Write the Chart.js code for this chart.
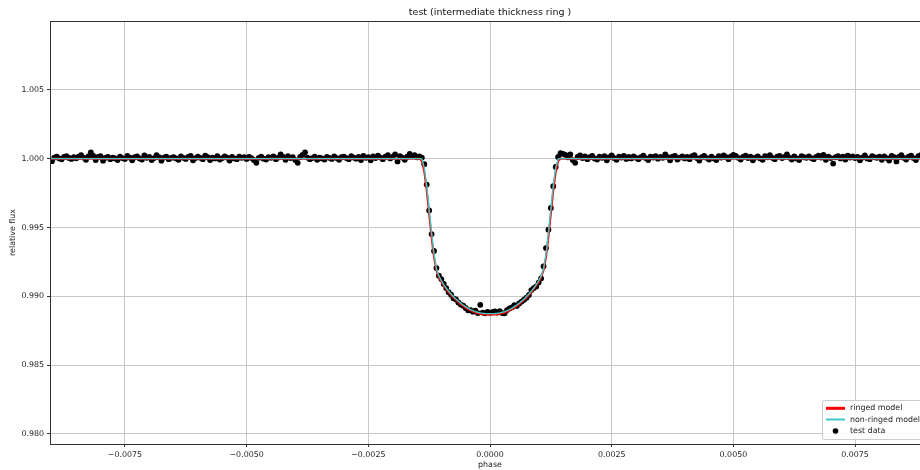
<!DOCTYPE html>
<html>
<head>
<meta charset="utf-8">
<script src="https://cdn.jsdelivr.net/npm/chart.js@4.4.1/dist/chart.umd.min.js"></script>
<style>
  html, body { margin: 0; padding: 0; background: #fff; overflow: hidden; }
  #wrap { width: 920px; height: 470px; overflow: hidden; position: relative; }
  canvas { position: absolute; left: 0; top: 0; }
</style>
</head>
<body>
<div id="wrap"><canvas id="c" width="960" height="470"></canvas></div>
<script>
// ---------------- data ----------------
const chartTitle = 'test (intermediate thickness ring )';
const xAxisLabel = 'phase';
const yAxisLabel = 'relative flux';
const seriesNames = ['ringed model', 'non-ringed model', 'test data'];

const xTicks = [-0.0075, -0.0050, -0.0025, 0.0000, 0.0025, 0.0050, 0.0075];
const yTicks = [0.980, 0.985, 0.990, 0.995, 1.000, 1.005];

// test data: out-of-transit before ingress
const phaseBefore = [
-0.00900,-0.00895,-0.00890,-0.00885,-0.00880,-0.00875,-0.00870,-0.00865,-0.00860,-0.00855,
-0.00850,-0.00845,-0.00840,-0.00835,-0.00830,-0.00825,-0.00820,-0.00815,-0.00810,-0.00805,
-0.00800,-0.00795,-0.00790,-0.00785,-0.00780,-0.00775,-0.00770,-0.00765,-0.00760,-0.00755,
-0.00750,-0.00745,-0.00740,-0.00735,-0.00730,-0.00725,-0.00720,-0.00715,-0.00710,-0.00705,
-0.00700,-0.00695,-0.00690,-0.00685,-0.00680,-0.00675,-0.00670,-0.00665,-0.00660,-0.00655,
-0.00650,-0.00645,-0.00640,-0.00635,-0.00630,-0.00625,-0.00620,-0.00615,-0.00610,-0.00605,
-0.00600,-0.00595,-0.00590,-0.00585,-0.00580,-0.00575,-0.00570,-0.00565,-0.00560,-0.00555,
-0.00550,-0.00545,-0.00540,-0.00535,-0.00530,-0.00525,-0.00520,-0.00515,-0.00510,-0.00505,
-0.00500,-0.00495,-0.00490,-0.00485,-0.00480,-0.00475,-0.00470,-0.00465,-0.00460,-0.00455,
-0.00450,-0.00445,-0.00440,-0.00435,-0.00430,-0.00425,-0.00420,-0.00415,-0.00410,-0.00405,
-0.00400,-0.00395,-0.00390,-0.00385,-0.00380,-0.00375,-0.00370,-0.00365,-0.00360,-0.00355,
-0.00350,-0.00345,-0.00340,-0.00335,-0.00330,-0.00325,-0.00320,-0.00315,-0.00310,-0.00305,
-0.00300,-0.00295,-0.00290,-0.00285,-0.00280,-0.00275,-0.00270,-0.00265,-0.00260,-0.00255,
-0.00250,-0.00245,-0.00240,-0.00235,-0.00230,-0.00225,-0.00220,-0.00215,-0.00210,-0.00205,
-0.00200,-0.00195,-0.00190,-0.00185,-0.00180,-0.00175,-0.00170,-0.00165,-0.00160,-0.00155,-0.00150,-0.00145
];
const fluxBefore = [
0.99982,1.00008,1.00015,1.00002,0.99995,1.00012,1.00018,1.00005,0.99998,1.00010,
1.00003,1.00014,1.00026,1.00008,0.99992,1.00016,1.00046,1.00020,0.99990,1.00012,
1.00018,0.99985,1.00006,1.00012,0.99996,1.00008,1.00002,0.99990,1.00014,1.00004,
0.99998,1.00020,1.00008,0.99988,1.00010,1.00016,1.00002,0.99994,1.00024,1.00006,
1.00012,0.99990,1.00004,1.00026,1.00010,0.99985,1.00008,1.00014,0.99996,1.00006,
1.00010,1.00002,0.99992,1.00016,1.00006,0.99998,1.00012,1.00020,0.99988,1.00004,
1.00014,1.00006,0.99996,1.00022,1.00010,0.99990,1.00008,1.00002,1.00018,0.99994,
1.00004,1.00016,1.00008,0.99986,1.00012,1.00002,0.99996,1.00014,1.00006,1.00010,
0.99998,1.00012,1.00004,0.99990,0.99970,1.00006,1.00014,1.00000,0.99994,1.00010,
1.00006,1.00016,0.99996,1.00008,1.00030,1.00012,0.99992,1.00018,1.00004,1.00010,
0.99990,0.99970,1.00012,1.00028,1.00046,1.00008,0.99996,1.00004,1.00014,0.99992,
1.00008,1.00002,0.99994,1.00012,1.00006,0.99998,1.00016,1.00004,0.99992,1.00010,
1.00014,1.00004,0.99996,1.00018,1.00008,1.00000,1.00012,0.99990,1.00020,1.00006,
1.00010,0.99988,1.00016,1.00004,1.00022,1.00008,0.99996,1.00014,1.00026,1.00002,
1.00012,1.00030,0.99980,1.00018,1.00008,0.99992,1.00014,1.00034,1.00020,1.00026,1.00010,1.00016
];

// test data: during transit
const phaseTransit = [
-0.00140,-0.00135,-0.00130,-0.00125,-0.00120,-0.00115,-0.00110,-0.00105,-0.00100,-0.00095,
-0.00090,-0.00085,-0.00080,-0.00075,-0.00070,-0.00065,-0.00060,-0.00055,-0.00050,-0.00045,
-0.00040,-0.00035,-0.00030,-0.00025,-0.00020,-0.00015,-0.00010,-0.00005,0.00000,
0.00005,0.00010,0.00015,0.00020,0.00025,0.00030,0.00035,0.00040,0.00045,0.00050,
0.00055,0.00060,0.00065,0.00070,0.00075,0.00080,0.00085,0.00090,0.00095,0.00100,
0.00105,0.00110,0.00115,0.00120,0.00125,0.00130,0.00135,0.00140
];
const fluxTransit = [
1.00008,0.99960,0.99812,0.99624,0.99452,0.99330,0.99205,0.99150,0.99125,0.99090,
0.99060,0.99030,0.99012,0.98985,0.98978,0.98955,0.98940,0.98932,0.98915,0.98898,
0.98900,0.98888,0.98895,0.98878,0.98938,0.98882,0.98876,0.98886,0.98880,
0.98884,0.98890,0.98882,0.98892,0.98878,0.98876,0.98900,0.98912,0.98920,0.98935,
0.98930,0.98948,0.98962,0.98975,0.98990,0.99010,0.99045,0.99060,0.99072,0.99100,
0.99130,0.99218,0.99350,0.99484,0.99642,0.99800,0.99940,1.00012
];

// test data: out-of-transit after egress
const phaseAfter = [
0.00145,0.00150,0.00155,0.00160,0.00165,0.00170,0.00175,0.00180,0.00185,0.00190,0.00195,0.00200,
0.00205,0.00210,0.00215,0.00220,0.00225,0.00230,0.00235,0.00240,0.00245,0.00250,
0.00255,0.00260,0.00265,0.00270,0.00275,0.00280,0.00285,0.00290,0.00295,0.00300,
0.00305,0.00310,0.00315,0.00320,0.00325,0.00330,0.00335,0.00340,0.00345,0.00350,
0.00355,0.00360,0.00365,0.00370,0.00375,0.00380,0.00385,0.00390,0.00395,0.00400,
0.00405,0.00410,0.00415,0.00420,0.00425,0.00430,0.00435,0.00440,0.00445,0.00450,
0.00455,0.00460,0.00465,0.00470,0.00475,0.00480,0.00485,0.00490,0.00495,0.00500,
0.00505,0.00510,0.00515,0.00520,0.00525,0.00530,0.00535,0.00540,0.00545,0.00550,
0.00555,0.00560,0.00565,0.00570,0.00575,0.00580,0.00585,0.00590,0.00595,0.00600,
0.00605,0.00610,0.00615,0.00620,0.00625,0.00630,0.00635,0.00640,0.00645,0.00650,
0.00655,0.00660,0.00665,0.00670,0.00675,0.00680,0.00685,0.00690,0.00695,0.00700,
0.00705,0.00710,0.00715,0.00720,0.00725,0.00730,0.00735,0.00740,0.00745,0.00750,
0.00755,0.00760,0.00765,0.00770,0.00775,0.00780,0.00785,0.00790,0.00795,0.00800,
0.00805,0.00810,0.00815,0.00820,0.00825,0.00830,0.00835,0.00840,0.00845,0.00850,
0.00855,0.00860,0.00865,0.00870,0.00875,0.00880,0.00885,0.00890,0.00895,0.00900
];
const fluxAfter = [
1.00040,1.00034,1.00028,1.00010,1.00030,0.99990,0.99970,1.00012,1.00024,1.00004,1.00016,0.99996,
1.00010,1.00020,1.00002,0.99994,1.00014,1.00006,1.00018,0.99988,1.00010,1.00024,
1.00004,0.99992,1.00014,1.00008,1.00020,0.99998,1.00012,1.00002,1.00016,1.00006,
0.99996,1.00010,1.00022,1.00004,0.99990,1.00014,1.00008,1.00018,1.00000,1.00012,
1.00006,1.00030,1.00010,0.99988,1.00014,1.00020,0.99994,1.00008,1.00016,1.00002,
1.00012,0.99996,1.00018,1.00026,1.00004,0.99986,1.00010,1.00020,1.00006,0.99994,
1.00014,1.00002,0.99990,1.00018,1.00008,1.00024,1.00010,0.99996,1.00016,1.00028,
1.00020,1.00006,0.99994,1.00012,1.00022,1.00004,1.00014,0.99988,1.00008,1.00016,
1.00002,0.99992,1.00018,1.00010,1.00026,1.00006,0.99996,1.00014,1.00020,1.00004,
1.00012,1.00030,1.00008,0.99994,1.00016,1.00002,0.99990,1.00018,1.00010,1.00006,
1.00016,1.00004,0.99996,1.00012,1.00022,1.00008,1.00028,0.99992,1.00014,1.00004,
0.99964,1.00010,1.00018,1.00002,1.00014,0.99994,1.00022,1.00008,1.00016,1.00004,
1.00012,0.99988,1.00008,1.00024,1.00002,0.99996,1.00018,1.00010,1.00006,1.00014,
0.99992,1.00016,1.00004,0.99986,1.00020,1.00010,0.99980,1.00012,1.00026,1.00006,
0.99994,1.00014,1.00022,1.00004,0.99990,1.00018,1.00026,1.00008,1.00012,1.00020
];

// model curves
const modelPhase = [
-0.00920,-0.00145,
-0.00140,-0.00135,-0.00130,-0.00125,-0.00120,-0.00115,-0.00110,-0.00105,-0.00100,-0.00095,
-0.00090,-0.00085,-0.00080,-0.00075,-0.00070,-0.00065,-0.00060,-0.00055,-0.00050,-0.00045,
-0.00040,-0.00035,-0.00030,-0.00025,-0.00020,-0.00015,-0.00010,-0.00005,0.00000,
0.00005,0.00010,0.00015,0.00020,0.00025,0.00030,0.00035,0.00040,
0.00045,0.00050,0.00055,0.00060,0.00065,0.00070,0.00075,0.00080,0.00085,0.00090,
0.00095,0.00100,0.00105,0.00110,0.00115,0.00120,0.00125,0.00130,0.00135,0.00140,
0.00145,0.00920
];
const ringedModel = [
1.00000,1.00000,
0.99985,0.99905,0.99770,0.99598,0.99428,0.99283,0.99190,0.99140,0.99106,0.99078,
0.99053,0.99031,0.99010,0.98991,0.98974,0.98958,0.98943,0.98930,0.98918,0.98907,
0.98897,0.98889,0.98882,0.98877,0.98873,0.98870,0.98868,0.98867,0.98867,
0.98867,0.98868,0.98870,0.98873,0.98877,0.98882,0.98889,0.98897,
0.98907,0.98918,0.98930,0.98943,0.98958,0.98974,0.98991,0.99010,0.99031,0.99053,
0.99078,0.99106,0.99140,0.99190,0.99283,0.99428,0.99598,0.99770,0.99905,0.99985,
1.00000,1.00000
];
const nonRingedModel = [
1.00000,1.00000,
0.99998,0.99935,0.99805,0.99635,0.99462,0.99305,0.99200,0.99148,0.99113,0.99085,
0.99060,0.99038,0.99017,0.98998,0.98981,0.98965,0.98950,0.98937,0.98925,0.98914,
0.98904,0.98896,0.98889,0.98884,0.98880,0.98877,0.98875,0.98874,0.98874,
0.98874,0.98875,0.98877,0.98880,0.98884,0.98889,0.98896,0.98904,
0.98914,0.98925,0.98937,0.98950,0.98965,0.98981,0.98998,0.99017,0.99038,0.99060,
0.99085,0.99113,0.99148,0.99200,0.99305,0.99462,0.99635,0.99805,0.99935,0.99998,
1.00000,1.00000
];

// ---------------- build ----------------
const RED = '#ff0000';
const CYAN = '#3fc9c9';
const FONT = "'DejaVu Sans', sans-serif";

const toXY = (xs, ys) => xs.map((x, i) => ({ x: x, y: ys[i] }));
const dataPts = toXY(phaseBefore, fluxBefore)
  .concat(toXY(phaseTransit, fluxTransit))
  .concat(toXY(phaseAfter, fluxAfter));

const fmtX = v => {
  const s = Math.abs(v).toFixed(4);
  return (v < -1e-12 ? '\u2212' : '') + s;
};

const decor = {
  id: 'decor',
  afterDraw(chart) {
    const ctx = chart.ctx;
    const a = chart.chartArea;
    ctx.save();
    // frame (all spines)
    ctx.strokeStyle = '#333';
    ctx.lineWidth = 1;
    ctx.strokeRect(Math.round(a.left) + 0.5, Math.round(a.top) + 0.5,
                   Math.round(a.right - a.left), Math.round(a.bottom - a.top));
    // title
    ctx.fillStyle = '#111';
    ctx.font = '9.5px ' + FONT;
    ctx.textAlign = 'center';
    ctx.textBaseline = 'middle';
    ctx.fillText(chartTitle, (a.left + a.right) / 2, 13);
    // legend (inside lower right of the axes)
    const lx = 822, ly = 400, lw = 130, lh = 39;
    ctx.fillStyle = 'rgba(255,255,255,0.85)';
    ctx.strokeStyle = '#cccccc';
    ctx.lineWidth = 1;
    ctx.beginPath();
    if (ctx.roundRect) ctx.roundRect(lx + 0.5, ly + 0.5, lw, lh, 2); else ctx.rect(lx + 0.5, ly + 0.5, lw, lh);
    ctx.fill();
    ctx.stroke();
    ctx.font = '7.9px ' + FONT;
    ctx.textAlign = 'left';
    ctx.textBaseline = 'middle';
    const rows = [ly + 8.3, ly + 19.5, ly + 31];
    // ringed model
    ctx.strokeStyle = RED; ctx.lineWidth = 3;
    ctx.beginPath(); ctx.moveTo(826, rows[0]); ctx.lineTo(845, rows[0]); ctx.stroke();
    // non-ringed
    ctx.strokeStyle = CYAN; ctx.lineWidth = 2;
    ctx.beginPath(); ctx.moveTo(826, rows[1]); ctx.lineTo(845, rows[1]); ctx.stroke();
    // data marker
    ctx.fillStyle = '#000';
    ctx.beginPath(); ctx.arc(835.5, rows[2], 2.8, 0, Math.PI * 2); ctx.fill();
    ctx.fillStyle = '#222';
    ctx.fillText(seriesNames[0], 850, rows[0]);
    ctx.fillText(seriesNames[1], 850, rows[1]);
    ctx.fillText(seriesNames[2], 850, rows[2]);
    ctx.restore();
  }
};

const tickFont = { family: FONT, size: 7.9 };

new Chart(document.getElementById('c'), {
  type: 'scatter',
  data: {
    datasets: [
      { label: seriesNames[1], data: toXY(modelPhase, nonRingedModel), showLine: true,
        borderColor: CYAN, borderWidth: 1.4, pointRadius: 0, tension: 0, fill: false },
      { label: seriesNames[0], data: toXY(modelPhase, ringedModel), showLine: true,
        borderColor: RED, borderWidth: 2, pointRadius: 0, tension: 0, fill: false },
      { label: seriesNames[2], data: dataPts, showLine: false,
        pointRadius: 2.9, pointBackgroundColor: '#000', pointBorderWidth: 0, borderColor: '#000' }
    ]
  },
  options: {
    responsive: false,
    animation: false,
    devicePixelRatio: 1,
    layout: { padding: { left: 0, right: 30, top: 21, bottom: 0 } },
    plugins: { legend: { display: false }, title: { display: false }, tooltip: { enabled: false } },
    scales: {
      x: {
        type: 'linear', min: -0.009039, max: 0.009039,
        afterBuildTicks: s => { s.ticks = xTicks.map(v => ({ value: v })); },
        afterFit: s => { s.height = 26; },
        ticks: { callback: v => fmtX(v), font: tickFont, color: '#222', padding: 3, autoSkip: false, maxRotation: 0 },
        grid: { color: '#c8c8c8', lineWidth: 1, tickColor: '#333', tickLength: 3, drawTicks: true },
        border: { color: '#333', width: 1 },
        title: { display: true, text: xAxisLabel, font: tickFont, color: '#222', padding: { top: 0, bottom: 0 } }
      },
      y: {
        type: 'linear', min: 0.97927, max: 1.0100,
        afterBuildTicks: s => { s.ticks = yTicks.map(v => ({ value: v })); },
        afterFit: s => { s.width = 50; },
        ticks: { callback: v => v.toFixed(3), font: tickFont, color: '#222', padding: 3, autoSkip: false },
        grid: { color: '#c8c8c8', lineWidth: 1, tickColor: '#333', tickLength: 3, drawTicks: true },
        border: { color: '#333', width: 1 },
        title: { display: true, text: yAxisLabel, font: tickFont, color: '#222', padding: { top: 8, bottom: 0 } }
      }
    }
  },
  plugins: [decor]
});
</script>
</body>
</html>
